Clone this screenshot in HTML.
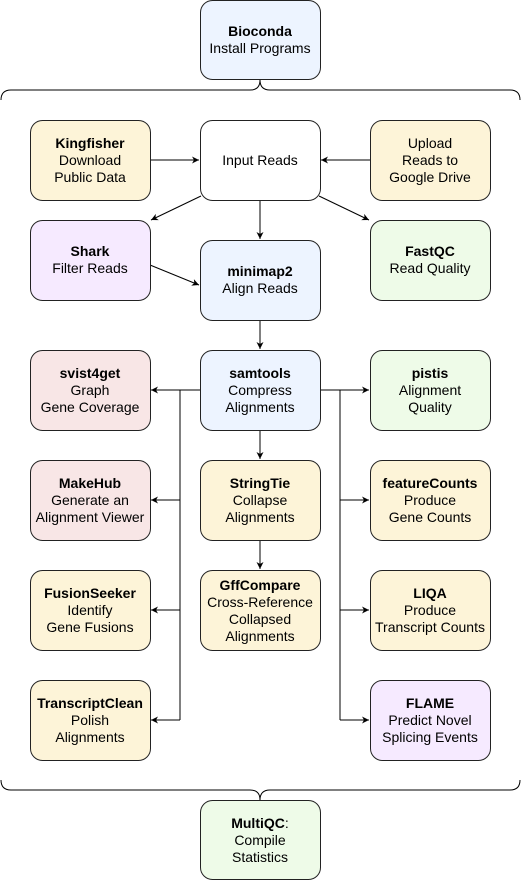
<!DOCTYPE html>
<html><head><meta charset="utf-8"><style>
html,body{margin:0;padding:0;background:#fff;}
svg{display:block;font-family:"Liberation Sans",Arial,sans-serif;font-size:14px;}
</style></head><body>
<svg width="521" height="881" viewBox="0 0 521 881" xmlns="http://www.w3.org/2000/svg">
<defs><marker id="a" markerWidth="8" markerHeight="8" refX="7" refY="4" orient="auto" markerUnits="userSpaceOnUse"><path d="M0,0.5 L7,4 L0,7.5 L2,4 Z" fill="#000"/></marker></defs>
<g fill="none" stroke="#000" stroke-width="1">
<path d="M1,100 Q1,90 11,90 L250,90 Q260,90 260,80 Q260,90 270,90 L510,90 Q520,90 520,100"/>
<path d="M1,780 Q1,790 11,790 L250,790 Q260,790 260,800 Q260,790 270,790 L510,790 Q520,790 520,780"/>
<g marker-end="url(#a)">
<line x1="150" y1="160" x2="199" y2="160"/>
<line x1="370" y1="160" x2="321" y2="160"/>
<line x1="260" y1="200" x2="260" y2="239"/>
<line x1="201" y1="196" x2="151" y2="220"/>
<line x1="319" y1="196" x2="369" y2="220"/>
<line x1="150" y1="265" x2="199" y2="285"/>
<line x1="260" y1="320" x2="260" y2="349"/>
<line x1="260" y1="430" x2="260" y2="459"/>
<line x1="260" y1="540" x2="260" y2="569"/>
<line x1="200" y1="390" x2="151" y2="390"/>
<line x1="180" y1="500" x2="151" y2="500"/>
<line x1="180" y1="610" x2="151" y2="610"/>
<line x1="180" y1="720" x2="151" y2="720"/>
<line x1="320" y1="390" x2="369" y2="390"/>
<line x1="340" y1="500" x2="369" y2="500"/>
<line x1="340" y1="610" x2="369" y2="610"/>
<line x1="340" y1="720" x2="369" y2="720"/>
</g>
<line x1="180" y1="390" x2="180" y2="720"/>
<line x1="340" y1="390" x2="340" y2="720"/>
</g>
<g stroke="#222" stroke-width="1">
<rect x="200.5" y="0.5" width="120" height="79" rx="12" fill="#EDF4FF"/>
<rect x="30.5" y="120.5" width="120" height="80" rx="12" fill="#FDF4D8"/>
<rect x="200.5" y="120.5" width="120" height="80" rx="12" fill="#fff"/>
<rect x="370.5" y="120.5" width="120" height="80" rx="12" fill="#FDF4D8"/>
<rect x="30.5" y="220.5" width="120" height="80" rx="12" fill="#F6EAFF"/>
<rect x="200.5" y="240.5" width="120" height="80" rx="12" fill="#EDF4FF"/>
<rect x="370.5" y="220.5" width="120" height="80" rx="12" fill="#EEFBE8"/>
<rect x="30.5" y="350.5" width="120" height="80" rx="12" fill="#F8E6E6"/>
<rect x="200.5" y="350.5" width="120" height="80" rx="12" fill="#EDF4FF"/>
<rect x="370.5" y="350.5" width="120" height="80" rx="12" fill="#EEFBE8"/>
<rect x="30.5" y="460.5" width="120" height="80" rx="12" fill="#F8E6E6"/>
<rect x="200.5" y="460.5" width="120" height="80" rx="12" fill="#FDF4D8"/>
<rect x="370.5" y="460.5" width="120" height="80" rx="12" fill="#FDF4D8"/>
<rect x="30.5" y="570.5" width="120" height="80" rx="12" fill="#FDF4D8"/>
<rect x="200.5" y="570.5" width="120" height="80" rx="12" fill="#FDF4D8"/>
<rect x="370.5" y="570.5" width="120" height="80" rx="12" fill="#FDF4D8"/>
<rect x="30.5" y="680.5" width="120" height="80" rx="12" fill="#FDF4D8"/>
<rect x="370.5" y="680.5" width="120" height="80" rx="12" fill="#F6EAFF"/>
<rect x="200.5" y="800.5" width="120" height="79" rx="12" fill="#EEFBE8"/>
</g>
<g text-anchor="middle" fill="#000">
<text x="260" y="36"><tspan font-weight="bold">Bioconda</tspan><tspan x="260" dy="17">Install Programs</tspan></text>
<text x="90" y="148"><tspan font-weight="bold">Kingfisher</tspan><tspan x="90" dy="17">Download</tspan><tspan x="90" dy="17">Public Data</tspan></text>
<text x="260" y="165">Input Reads</text>
<text x="430" y="148">Upload<tspan x="430" dy="17">Reads to</tspan><tspan x="430" dy="17">Google Drive</tspan></text>
<text x="90" y="256"><tspan font-weight="bold">Shark</tspan><tspan x="90" dy="17">Filter Reads</tspan></text>
<text x="260" y="276"><tspan font-weight="bold">minimap2</tspan><tspan x="260" dy="17">Align Reads</tspan></text>
<text x="430" y="256"><tspan font-weight="bold">FastQC</tspan><tspan x="430" dy="17">Read Quality</tspan></text>
<text x="90" y="378"><tspan font-weight="bold">svist4get</tspan><tspan x="90" dy="17">Graph</tspan><tspan x="90" dy="17">Gene Coverage</tspan></text>
<text x="260" y="378"><tspan font-weight="bold">samtools</tspan><tspan x="260" dy="17">Compress</tspan><tspan x="260" dy="17">Alignments</tspan></text>
<text x="430" y="378"><tspan font-weight="bold">pistis</tspan><tspan x="430" dy="17">Alignment</tspan><tspan x="430" dy="17">Quality</tspan></text>
<text x="90" y="488"><tspan font-weight="bold">MakeHub</tspan><tspan x="90" dy="17">Generate an</tspan><tspan x="90" dy="17">Alignment Viewer</tspan></text>
<text x="260" y="488"><tspan font-weight="bold">StringTie</tspan><tspan x="260" dy="17">Collapse</tspan><tspan x="260" dy="17">Alignments</tspan></text>
<text x="430" y="488"><tspan font-weight="bold">featureCounts</tspan><tspan x="430" dy="17">Produce</tspan><tspan x="430" dy="17">Gene Counts</tspan></text>
<text x="90" y="598"><tspan font-weight="bold">FusionSeeker</tspan><tspan x="90" dy="17">Identify</tspan><tspan x="90" dy="17">Gene Fusions</tspan></text>
<text x="260" y="590"><tspan font-weight="bold">GffCompare</tspan><tspan x="260" dy="17">Cross-Reference</tspan><tspan x="260" dy="17">Collapsed</tspan><tspan x="260" dy="17">Alignments</tspan></text>
<text x="430" y="598"><tspan font-weight="bold">LIQA</tspan><tspan x="430" dy="17">Produce</tspan><tspan x="430" dy="17">Transcript Counts</tspan></text>
<text x="90" y="708"><tspan font-weight="bold">TranscriptClean</tspan><tspan x="90" dy="17">Polish</tspan><tspan x="90" dy="17">Alignments</tspan></text>
<text x="430" y="708"><tspan font-weight="bold">FLAME</tspan><tspan x="430" dy="17">Predict Novel</tspan><tspan x="430" dy="17">Splicing Events</tspan></text>
<text x="260" y="828"><tspan font-weight="bold">MultiQC</tspan>:<tspan x="260" dy="17">Compile</tspan><tspan x="260" dy="17">Statistics</tspan></text>
</g>
</svg>
</body></html>
